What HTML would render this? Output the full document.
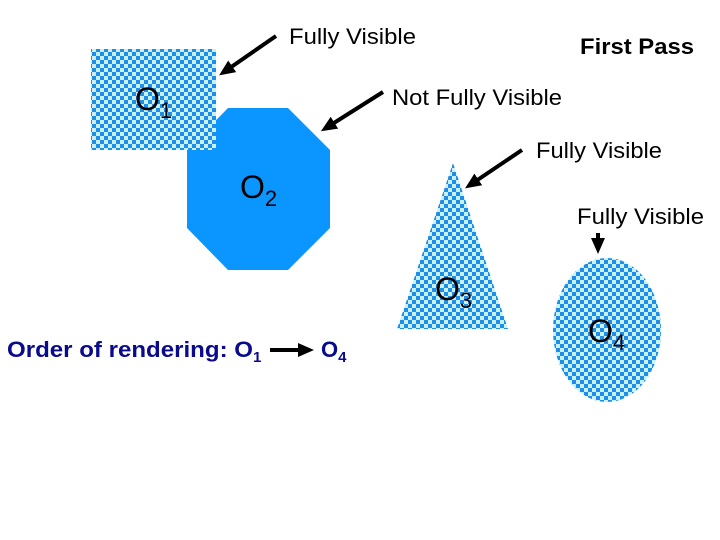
<!DOCTYPE html>
<html><head><style>body{margin:0;background:#fff}svg{display:block}</style></head><body>
<svg width="720" height="540" xmlns="http://www.w3.org/2000/svg" font-family="Liberation Sans, sans-serif">
<defs>
<pattern id="ck" width="8" height="8" patternUnits="userSpaceOnUse">
<rect width="8" height="8" fill="#c8f0ff"/>
<rect width="4" height="4" fill="#1e8fe6"/>
<rect x="4" y="4" width="4" height="4" fill="#1e8fe6"/>
</pattern>
<marker id="ah" markerWidth="16" markerHeight="16" refX="10" refY="8" orient="auto" markerUnits="userSpaceOnUse" viewBox="0 0 16 16">
<path d="M0,1 L16,8 L0,15 z" fill="#000"/>
</marker>
</defs>
<polygon points="228,108 288,108 330,150 330,228 288,270 228,270 187,228 187,150" fill="#0b96ff"/>
<rect x="91" y="49" width="125" height="101" fill="url(#ck)"/>
<polygon points="453,163 508,329 397,329" fill="url(#ck)"/>
<ellipse cx="607" cy="330" rx="54" ry="72" fill="url(#ck)"/>
<g stroke="#000" stroke-width="4">
<line x1="276" y1="36" x2="224" y2="72" marker-end="url(#ah)"/>
<line x1="383" y1="92" x2="326" y2="128" marker-end="url(#ah)"/>
<line x1="522" y1="150" x2="470" y2="185" marker-end="url(#ah)"/>
<line x1="598" y1="233" x2="598" y2="248" marker-end="url(#ah)"/>
<line x1="270" y1="350" x2="308" y2="350" marker-end="url(#ah)"/>
</g>
<g font-size="22" fill="#000">
<text x="289" y="44" textLength="127" lengthAdjust="spacingAndGlyphs">Fully Visible</text>
<text x="392" y="105" textLength="170" lengthAdjust="spacingAndGlyphs">Not Fully Visible</text>
<text x="536" y="158" textLength="126" lengthAdjust="spacingAndGlyphs">Fully Visible</text>
<text x="577" y="224" textLength="127" lengthAdjust="spacingAndGlyphs">Fully Visible</text>
<text x="580" y="54" font-weight="bold" textLength="114" lengthAdjust="spacingAndGlyphs">First Pass</text>
</g>
<g font-size="32" fill="#000">
<text x="135" y="110">O<tspan font-size="22" dy="8">1</tspan></text>
<text x="240" y="198">O<tspan font-size="22" dy="8">2</tspan></text>
<text x="435" y="300">O<tspan font-size="22" dy="8">3</tspan></text>
<text x="588" y="342">O<tspan font-size="22" dy="8">4</tspan></text>
</g>
<g font-size="22" font-weight="bold" fill="#0a0a8c">
<text x="7" y="357"><tspan textLength="246" lengthAdjust="spacingAndGlyphs">Order of rendering: O</tspan><tspan font-size="15" dy="5">1</tspan></text>
<text x="321" y="357">O<tspan font-size="15" dy="5">4</tspan></text>
</g>
</svg>
</body></html>
